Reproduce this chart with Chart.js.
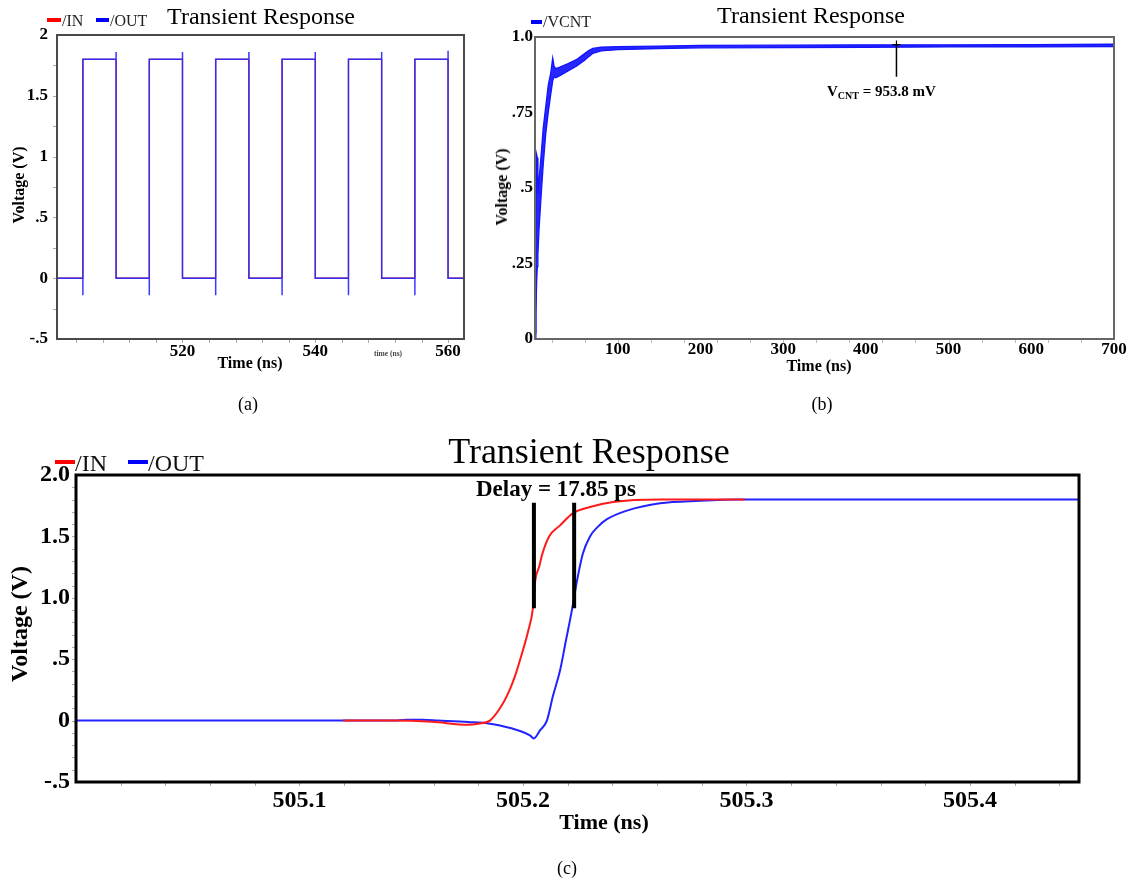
<!DOCTYPE html>
<html>
<head>
<meta charset="utf-8">
<script src="https://cdn.jsdelivr.net/npm/chart.js@4.4.1/dist/chart.umd.min.js"></script>
<style>
  body { margin: 0; background: #fff; width: 1135px; height: 884px; position: relative; overflow: hidden;
         font-family: 'Liberation Serif', 'Times New Roman', serif; color: #000; }
  canvas { position: absolute; }
  .t { position: absolute; white-space: nowrap; line-height: 1; transform: translate(-50%, -50%); z-index: 2; }
  .l { position: absolute; white-space: nowrap; line-height: 1; transform: translate(0, -50%); z-index: 2; }
  .b { font-weight: bold; }
  .v { transform: translate(-50%, -50%) rotate(-90deg); }
  .dash { position: absolute; height: 4px; z-index: 2; }
</style>
</head>
<body>

<!-- (a) -->
<canvas id="chartA" width="480" height="390" style="left:0;top:0"></canvas>
<div class="t" style="left:261px;top:16px;font-size:24px">Transient Response</div>
<div class="dash" style="left:47px;top:18px;width:14px;background:#f00"></div>
<div class="l" style="left:62px;top:20.6px;font-size:16px;color:#222">/IN</div>
<div class="dash" style="left:96px;top:18px;width:13px;background:#00f"></div>
<div class="l" style="left:110px;top:20.6px;font-size:16px;color:#222">/OUT</div>
<div class="t b v" style="left:19px;top:185px;font-size:16px">Voltage (V)</div>
<div class="t b" style="left:250px;top:363px;font-size:16px">Time (ns)</div>
<div class="t b" style="left:388px;top:354px;font-size:7.5px;color:#444">time (ns)</div>
<div class="t" style="left:248px;top:404px;font-size:18px">(a)</div>

<!-- (b) -->
<canvas id="chartB" width="645" height="390" style="left:490px;top:0"></canvas>
<div class="t" style="left:811px;top:15px;font-size:24px">Transient Response</div>
<div class="dash" style="left:531px;top:20px;width:11px;background:#00f"></div>
<div class="l" style="left:543px;top:22px;font-size:16px;color:#222">/VCNT</div>
<div class="t b v" style="left:502px;top:187px;font-size:16px">Voltage (V)</div>
<div class="t b" style="left:819px;top:366px;font-size:16px">Time (ns)</div>
<div class="l b" style="left:827px;top:92px;font-size:15px">V<sub style="font-size:10px;vertical-align:-3px">CNT</sub> = 953.8 mV</div>
<div class="t" style="left:822px;top:404px;font-size:18px">(b)</div>

<!-- (c) -->
<canvas id="chartC" width="1135" height="430" style="left:0;top:420px"></canvas>
<div class="t" style="left:589px;top:451px;font-size:36px">Transient Response</div>
<div class="dash" style="left:55px;top:460px;width:20px;background:#f00"></div>
<div class="l" style="left:75px;top:463px;font-size:24px;color:#111">/IN</div>
<div class="dash" style="left:128px;top:460px;width:20px;background:#00f"></div>
<div class="l" style="left:148px;top:463px;font-size:24px;color:#111">/OUT</div>
<div class="t b" style="left:556px;top:488px;font-size:23px">Delay = 17.85 ps</div>
<div class="t b v" style="left:19px;top:624px;font-size:24px">Voltage (V)</div>
<div class="t b" style="left:604px;top:822px;font-size:22px">Time (ns)</div>
<div class="t" style="left:567px;top:868px;font-size:18px">(c)</div>

<script>
const FONT = "'Liberation Serif', 'Times New Roman', serif";

// ── (a) pulse train, 501–562.4 ns
const aInTime  = [501, 505, 505, 510, 510, 515, 515, 520, 520, 525, 525, 530, 530, 535, 535, 540, 540, 545, 545, 550, 550, 555, 555, 560, 560, 562.4];
const aInVolt  = [0,   0,   1.8, 1.8, 0,   0,   1.8, 1.8, 0,   0,   1.8, 1.8, 0,   0,   1.8, 1.8, 0,   0,   1.8, 1.8, 0,   0,   1.8, 1.8, 0,   0];
const aOutTime = [501, 505, 505, 505, 510, 510, 510, 515, 515, 515, 520, 520, 520, 525, 525, 525, 530, 530, 530,
                  535, 535, 535, 540, 540, 540, 545, 545, 545, 550, 550, 550, 555, 555, 555, 560, 560, 560, 562.4];
const aOutVolt = [0, 0, -0.14, 1.8, 1.8, 1.86, 0, 0, -0.14, 1.8, 1.8, 1.86, 0, 0, -0.14, 1.8, 1.8, 1.86, 0,
                  0, -0.14, 1.8, 1.8, 1.86, 0, 0, -0.14, 1.8, 1.8, 1.86, 0, 0, -0.14, 1.8, 1.8, 1.87, 0, 0];
const aXTicks  = [520, 540, 560];
const aYTicks  = [-0.5, 0, 0.5, 1, 1.5, 2];
const aYLabels = ['-.5', '0', '.5', '1', '1.5', '2'];

// ── (b) VCNT settling, noisy band given as upper / lower edge
const bTime  = [0, 1, 2, 2.8, 3.5, 5, 8, 10, 13, 16, 19, 21.4, 23, 25, 30, 40, 50, 60, 65, 70, 80, 100, 150, 200, 300, 400, 500, 600, 700];
const bUpper = [0.02, 0.32, 0.61, 0.60, 0.48, 0.53, 0.63, 0.70, 0.77, 0.84, 0.88, 0.93, 0.905, 0.895, 0.90, 0.912, 0.925, 0.945,
                0.955, 0.962, 0.966, 0.968, 0.970, 0.972, 0.973, 0.974, 0.974, 0.975, 0.976];
const bLower = [0, 0.08, 0.19, 0.24, 0.28, 0.37, 0.50, 0.58, 0.68, 0.75, 0.81, 0.855, 0.868, 0.865, 0.872, 0.888, 0.903, 0.923,
                0.935, 0.946, 0.954, 0.958, 0.962, 0.964, 0.965, 0.966, 0.967, 0.967, 0.968];
const bMarkTime = [437, 437];
const bMarkVolt = [0.975, 0.868];
const bXTicks  = [100, 200, 300, 400, 500, 600, 700];
const bYTicks  = [0, 0.25, 0.5, 0.75, 1];
const bYLabels = ['0', '.25', '.5', '.75', '1.0'];

// ── (c) zoom on one rising edge
const cInTime  = [505.1195, 505.1418, 505.1593, 505.1754, 505.1799, 505.1852, 505.1897, 505.1933, 505.1964, 505.1996,
                  505.2022, 505.2045, 505.2055, 505.2072, 505.2087, 505.2117, 505.2166, 505.2224, 505.23, 505.2403,
                  505.2613, 505.2993];
const cInVolt  = [0, 0, -0.01, -0.033, -0.025, 0, 0.1, 0.22, 0.36, 0.55, 0.72, 0.92, 1.14, 1.25, 1.36, 1.50, 1.59,
                  1.69, 1.74, 1.78, 1.80, 1.80];
const cOutTime = [505.0, 505.1418, 505.148, 505.155, 505.162, 505.1754, 505.1852, 505.1897, 505.1987, 505.2031, 505.2049,
                  505.2076, 505.2107, 505.2134, 505.2166, 505.2192, 505.2219, 505.2242, 505.2268, 505.2300, 505.2336,
                  505.2376, 505.2465, 505.2613, 505.2792, 505.2971, 505.4488];
const cOutVolt = [0, 0, 0.006, 0.006, 0, -0.012, -0.025, -0.04, -0.085, -0.12, -0.145, -0.08, 0.0, 0.2, 0.41, 0.65,
                  0.90, 1.14, 1.36, 1.50, 1.58, 1.64, 1.71, 1.77, 1.79, 1.80, 1.80];
const cDelayTime = [505.2049, 505.2229];
const cDelayVolt = [1.775, 0.915];
const cXTicks  = [505.1, 505.2, 505.3, 505.4];
const cYTicks  = [-0.5, 0, 0.5, 1, 1.5, 2];
const cYLabels = ['-.5', '0', '.5', '1.0', '1.5', '2.0'];

// ── helpers
const pts = (xs, ys) => xs.map((x, i) => ({ x, y: ys[i] }));
const range = (from, to, step) => { const r = []; for (let v = from; v <= to + step / 1000; v += step) r.push(v); return r; };

function axis(min, max, ticks, labels, font, pad, size, horizontal) {
  return {
    type: 'linear', min, max,
    grid: { display: false, drawTicks: false },
    border: { display: false },
    afterBuildTicks: s => { s.ticks = ticks.map(v => ({ value: v })); },
    afterFit: s => { if (horizontal) s.height = size; else s.width = size; },
    ticks: {
      autoSkip: false, maxRotation: 0, padding: pad, color: '#000', font,
      callback: v => labels ? labels[ticks.indexOf(v)] : String(v),
    },
  };
}

// frame + small outside tick marks
function framePlugin(cfg) {
  return {
    id: 'frame',
    afterDatasetsDraw(chart) {
      const { ctx, chartArea: a, scales } = chart;
      ctx.save();
      ctx.strokeStyle = cfg.tickColor;
      ctx.lineWidth = 1;
      ctx.beginPath();
      (cfg.xMinor || []).forEach(v => {
        const px = Math.round(scales.x.getPixelForValue(v)) + 0.5;
        ctx.moveTo(px, a.bottom); ctx.lineTo(px, a.bottom + cfg.tickLen);
      });
      (cfg.yMinor || []).forEach(v => {
        const py = Math.round(scales.y.getPixelForValue(v)) + 0.5;
        ctx.moveTo(a.left, py); ctx.lineTo(a.left - cfg.tickLen, py);
      });
      ctx.stroke();
      ctx.strokeStyle = cfg.color;
      ctx.lineWidth = cfg.width;
      ctx.strokeRect(a.left, a.top, a.right - a.left, a.bottom - a.top);
      ctx.restore();
    },
  };
}

function baseOptions(padding, scales) {
  return {
    responsive: false, animation: false, events: [],
    layout: { padding },
    plugins: { legend: { display: false }, tooltip: { enabled: false } },
    elements: { point: { radius: 0 }, line: { tension: 0 } },
    scales,
  };
}

const tickFont = size => ({ family: FONT, size, weight: 'bold' });

// ── (a)
new Chart(document.getElementById('chartA'), {
  type: 'line',
  data: {
    datasets: [
      { label: '/OUT', data: pts(aOutTime, aOutVolt), borderColor: 'rgba(45,45,255,0.95)', borderWidth: 1.5 },
      { label: '/IN',  data: pts(aInTime, aInVolt),   borderColor: '#e00000', borderWidth: 1.2 },
    ],
  },
  options: baseOptions({ left: 17, right: 16, top: 35, bottom: 21 }, {
    x: axis(501.1, 562.4, aXTicks, null, tickFont(17), 2, 30, true),
    y: axis(-0.5, 2, aYTicks, aYLabels, tickFont(17), 9, 40, false),
  }),
  plugins: [framePlugin({ color: '#4a4a4a', width: 2, tickColor: '#aaa', tickLen: 4,
                          xMinor: range(504, 560, 4), yMinor: range(-0.25, 1.75, 0.25) })],
});

// ── (b)
new Chart(document.getElementById('chartB'), {
  type: 'line',
  data: {
    datasets: [
      { label: 'mark', data: pts(bMarkTime, bMarkVolt), borderColor: '#000', borderWidth: 1.5,
        pointRadius: [4, 0], pointStyle: 'cross', pointBorderColor: '#000', pointBorderWidth: 1.2 },
      { label: 'low', data: pts(bTime, bLower), borderColor: '#1414ff', borderWidth: 1.3, fill: false },
      { label: '/VCNT', data: pts(bTime, bUpper), borderColor: '#1414ff', borderWidth: 1.3,
        fill: '-1', backgroundColor: 'rgba(20,20,255,0.92)' },
    ],
  },
  options: baseOptions({ left: 10, right: 21, top: 37, bottom: 21 }, {
    x: axis(0, 700, bXTicks, null, tickFont(17), 0, 30, true),
    y: axis(0, 1, bYTicks, bYLabels, tickFont(17), 2, 35, false),
  }),
  plugins: [framePlugin({ color: '#666', width: 2, tickColor: '#bbb', tickLen: 4, xMinor: range(20, 660, 40) })],
});

// ── (c)
new Chart(document.getElementById('chartC'), {
  type: 'line',
  data: {
    datasets: [
      { label: 'in mark',  data: pts([cDelayTime[0], cDelayTime[0]], cDelayVolt), borderColor: '#000', borderWidth: 4, borderCapStyle: 'butt' },
      { label: 'out mark', data: pts([cDelayTime[1], cDelayTime[1]], cDelayVolt), borderColor: '#000', borderWidth: 4, borderCapStyle: 'butt' },
      { label: '/IN',  data: pts(cInTime, cInVolt),   borderColor: '#ff1a1a', borderWidth: 2, cubicInterpolationMode: 'monotone' },
      { label: '/OUT', data: pts(cOutTime, cOutVolt), borderColor: '#2222ff', borderWidth: 2, cubicInterpolationMode: 'monotone' },
    ],
  },
  options: baseOptions({ left: 10, right: 56, top: 55, bottom: 28 }, {
    x: axis(505.0, 505.4488, cXTicks, null, tickFont(24), 4, 40, true),
    y: axis(-0.5, 2, cYTicks, cYLabels, tickFont(24), 6, 66, false),
  }),
  plugins: [framePlugin({ color: '#000', width: 3, tickColor: '#aaa', tickLen: 4,
                          xMinor: range(505.02, 505.44, 0.02), yMinor: range(-0.4, 1.9, 0.1) })],
});
</script>
</body>
</html>
